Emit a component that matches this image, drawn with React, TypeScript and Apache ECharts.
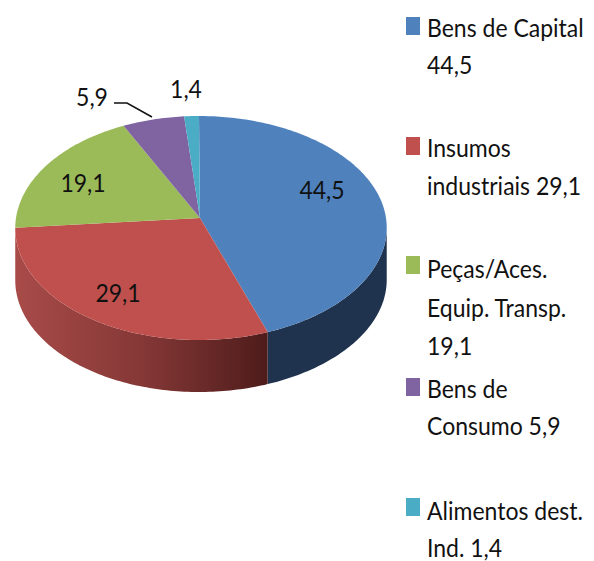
import React, { useEffect, useRef } from "react";
import * as echarts from "echarts";

const sliceNames = ["Bens de Capital", "Insumos industriais", "Peças/Aces. Equip. Transp.", "Bens de Consumo", "Alimentos dest. Ind."];
const sliceValues = [44.5, 29.1, 19.1, 5.9, 1.4];
const sliceColors = ["#4f81bd", "#c0504d", "#9bbb59", "#8064a2", "#4bacc6"];
const legendLines = [
  ["Bens de Capital", "44,5"],
  ["Insumos", "industriais 29,1"],
  ["Peças/Aces.", "Equip. Transp.", "19,1"],
  ["Bens de", "Consumo 5,9"],
  ["Alimentos dest.", "Ind. 1,4"],
];

// layout
const FONT = "Lato";
const TEXT_SCALE = 0.92;
const CX = 201, CY = 218, RX = 185, RY = 111.1, P = 0.0893, DEPTH = 52, SKEW = 2;
const labelPos = [[322, 189], [118, 292], [83, 182], [92, 96], [186, 88]];
const markerY = [26, 146, 265, 387, 507];
const lineY = [[27, 64], [147, 185], [268, 307, 345], [388, 425], [510, 547]];

const total = sliceValues.reduce((a, b) => a + b, 0);
const project = (deg: number, dy = 0) => {
  const t = (deg * Math.PI) / 180;
  const u = Math.sin(t), v = Math.cos(t), d = 1 + P * v;
  return [CX - SKEW * v * v + (RX * u) / d, CY - (RY * v) / d + dy];
};
const arc = (a: number, b: number, dy = 0) => {
  const n = Math.max(2, Math.ceil(Math.abs(b - a)));
  const pts: number[][] = [];
  for (let i = 0; i <= n; i++) pts.push(project(a + ((b - a) * i) / n, dy));
  return pts;
};

const renderSlice = (params: any, api: any) => {
  const i = params.dataIndex;
  let before = 0;
  for (let k = 0; k < i; k++) before += sliceValues[k];
  const a = (before / total) * 360;
  const b = a + (api.value(0) / total) * 360;
  const children: any[] = [];
  const sa = Math.max(a, 95), sb = Math.min(b, 265);
  if (sb > sa) {
    const top = arc(sa, sb);
    const bottom = arc(sb, sa, DEPTH);
    const fill =
      i === 0
        ? "#1f334f"
        : new echarts.graphic.LinearGradient(0, 0, 1, 0, [
            { offset: 0, color: "#a84b49" },
            { offset: 0.5, color: "#853836" },
            { offset: 1, color: "#4e1c1b" },
          ]);
    children.push({ type: "polygon", shape: { points: [...top, ...bottom] }, style: { fill } });
  }
  children.push({
    type: "polygon",
    shape: { points: [[CX - 1, CY], ...arc(a, b)] },
    style: { fill: sliceColors[i] },
  });
  return { type: "group", children };
};

const renderLabel = (params: any, api: any) => {
  const i = params.dataIndex;
  return {
    type: "text",
    x: labelPos[i][0],
    y: labelPos[i][1],
    scaleX: TEXT_SCALE,
    style: {
      text: String(api.value(0)).replace(".", ","),
      fontFamily: FONT,
      fontSize: 25,
      fill: "#111",
      align: "center",
      verticalAlign: "middle",
    },
  };
};

const legendGraphics = () => {
  const out: any[] = [];
  sliceNames.forEach((_, i) => {
    out.push({
      type: "rect",
      shape: { x: 406, y: markerY[i] - 9, width: 14, height: 18 },
      style: { fill: sliceColors[i] },
    });
    legendLines[i].forEach((t, j) => {
      out.push({
        type: "text",
        x: 427,
        y: lineY[i][j],
        scaleX: TEXT_SCALE,
        style: { text: t, fontFamily: FONT, fontSize: 25, fill: "#111", verticalAlign: "middle" },
      });
    });
  });
  out.push({
    type: "polyline",
    shape: { points: [[114, 103], [127, 103], [152, 117]] },
    style: { stroke: "#111", lineWidth: 1.5, fill: "none" },
    z: 10,
  });
  return out;
};

export default function App() {
  const ref = useRef<HTMLDivElement>(null);
  useEffect(() => {
    document.body.style.margin = "0";
    const chart = echarts.init(ref.current!, undefined, { renderer: "svg" });
    chart.setOption({
      animation: false,
      backgroundColor: "#ffffff",
      graphic: legendGraphics(),
      series: [
        {
          type: "custom",
          coordinateSystem: "none",
          renderItem: renderSlice,
          data: sliceValues.map((v, i) => ({ name: sliceNames[i], value: [v] })),
          silent: true,
          z: 2,
        },
        {
          type: "custom",
          coordinateSystem: "none",
          renderItem: renderLabel,
          data: sliceValues.map((v, i) => ({ name: sliceNames[i], value: [v] })),
          silent: true,
          z: 5,
        },
      ],
    });
    return () => chart.dispose();
  }, []);
  return <div ref={ref} style={{ width: 594, height: 561 }} />;
}
